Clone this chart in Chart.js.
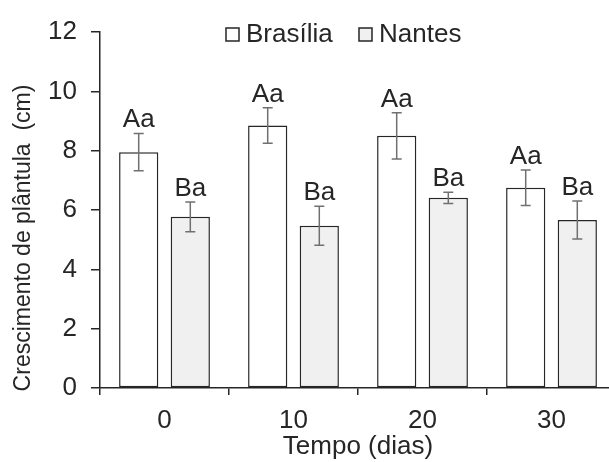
<!DOCTYPE html>
<html>
<head>
<meta charset="utf-8">
<title>Crescimento de plântula</title>
<script src="https://cdn.jsdelivr.net/npm/chart.js@4/dist/chart.umd.min.js"></script>
<style>
	html, body { margin: 0; padding: 0; overflow: hidden; background: #fff; }
	#chart { display: block; }
</style>
</head>
<body>
<canvas id="chart" width="616" height="462"></canvas>
<script>
(function () {
	'use strict';

	// ── Data ─────────────────────────────────────────────────────────────────

	var categories = ['0', '10', '20', '30'];

	var brasilia        = [7.95, 8.85, 8.50, 6.75];
	var brasiliaErr     = [0.63, 0.60, 0.78, 0.60];
	var brasiliaLetters = ['Aa', 'Aa', 'Aa', 'Aa'];

	var nantes        = [5.77, 5.47, 6.41, 5.66];
	var nantesErr     = [0.50, 0.66, 0.19, 0.64];
	var nantesLetters = ['Ba', 'Ba', 'Ba', 'Ba'];

	var yTicks = [0, 2, 4, 6, 8, 10, 12];

	// ── Look ─────────────────────────────────────────────────────────────────

	var FONT   = "'Liberation Sans', Arial, sans-serif";
	var INK    = '#262626';
	var ERRCOL = '#707070';

	Chart.defaults.font.family = FONT;
	Chart.defaults.color = INK;

	// Error bars + significance letters, drawn from the bar elements.
	var extrasPlugin = {
		id: 'extras',
		afterDatasetsDraw: function (chart) {
			var ctx = chart.ctx;
			var y   = chart.scales.y;
			var sets = [
				{ vals: brasilia, err: brasiliaErr, txt: brasiliaLetters },
				{ vals: nantes,   err: nantesErr,   txt: nantesLetters }
			];

			ctx.save();
			sets.forEach(function (s, di) {
				var meta = chart.getDatasetMeta(di);
				meta.data.forEach(function (bar, i) {
					var top = y.getPixelForValue(s.vals[i] + s.err[i]);
					var bot = y.getPixelForValue(s.vals[i] - s.err[i]);

					ctx.strokeStyle = ERRCOL;
					ctx.lineWidth   = 1.5;
					ctx.beginPath();
					ctx.moveTo(bar.x, top);
					ctx.lineTo(bar.x, bot);
					ctx.moveTo(bar.x - 5, top);
					ctx.lineTo(bar.x + 5, top);
					ctx.moveTo(bar.x - 5, bot);
					ctx.lineTo(bar.x + 5, bot);
					ctx.stroke();

					ctx.fillStyle    = INK;
					ctx.font         = '26px ' + FONT;
					ctx.textAlign    = 'center';
					ctx.textBaseline = 'alphabetic';
					ctx.fillText(s.txt[i], bar.x, top - 6);
				});
			});
			ctx.restore();
		},
		afterDraw: function (chart) {
			var ctx = chart.ctx;
			ctx.save();

			// Legend (sits inside the plot, top centre).
			var items = [
				{ label: 'Brasília', fill: '#ffffff', x: 226 },
				{ label: 'Nantes',   fill: '#f0f0f0', x: 359 }
			];
			ctx.font         = '26px ' + FONT;
			ctx.textAlign    = 'left';
			ctx.textBaseline = 'alphabetic';
			items.forEach(function (it) {
				ctx.fillStyle   = it.fill;
				ctx.strokeStyle = INK;
				ctx.lineWidth   = 1.5;
				ctx.fillRect(it.x, 28, 13, 13);
				ctx.strokeRect(it.x, 28, 13, 13);
				ctx.fillStyle = INK;
				ctx.fillText(it.label, it.x + 20, 42);
			});

			// Y axis title.
			ctx.translate(24, 238);
			ctx.rotate(-Math.PI / 2);
			ctx.font         = '23px ' + FONT;
			ctx.textAlign    = 'center';
			ctx.textBaseline = 'middle';
			ctx.fillText('Crescimento de plântula  (cm)', 0, 0);

			ctx.restore();
		}
	};

	// ── Chart ────────────────────────────────────────────────────────────────

	new Chart(document.getElementById('chart'), {
		type: 'bar',
		data: {
			labels: categories,
			datasets: [{
				label: 'Brasília',
				data: brasilia,
				backgroundColor: '#ffffff',
				borderColor: INK,
				borderWidth: 1.5,
				borderSkipped: false,
				categoryPercentage: 0.8,
				barPercentage: 0.76
			}, {
				label: 'Nantes',
				data: nantes,
				backgroundColor: '#f0f0f0',
				borderColor: INK,
				borderWidth: 1.5,
				borderSkipped: false,
				categoryPercentage: 0.8,
				barPercentage: 0.76
			}]
		},
		options: {
			responsive: false,
			devicePixelRatio: 1,
			animation: false,
			layout: { padding: { top: 32, left: 0, right: 0, bottom: 0 } },
			plugins: {
				legend: { display: false },
				tooltip: { enabled: false }
			},
			scales: {
				x: {
					offset: true,
					afterFit: function (s) { s.height = 74; },
					grid: { display: true, offset: true, drawOnChartArea: false, tickLength: 7, color: INK, lineWidth: 1.5 },
					border: { display: true, color: INK, width: 1.5 },
					ticks: { font: { size: 26 }, color: INK, padding: 10 },
					title: { display: true, text: 'Tempo (dias)', font: { size: 26 }, color: INK, padding: { top: 0, bottom: 0 } }
				},
				y: {
					min: 0,
					max: 12,
					afterFit: function (s) { s.width = 100; },
					afterBuildTicks: function (s) {
						s.ticks = yTicks.map(function (v) { return { value: v }; });
					},
					grid: { display: true, drawOnChartArea: false, tickLength: 9, color: INK, lineWidth: 1.5 },
					border: { display: true, color: INK, width: 1.5 },
					ticks: { font: { size: 26 }, color: INK, padding: 14 }
				}
			}
		},
		plugins: [extrasPlugin]
	});
}());
</script>
</body>
</html>
